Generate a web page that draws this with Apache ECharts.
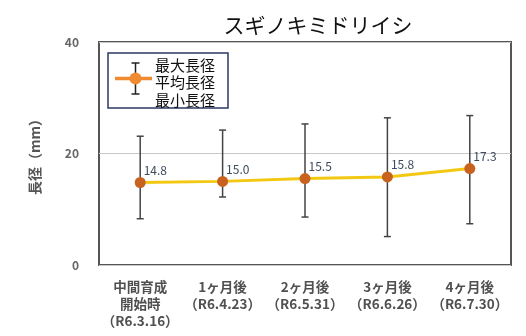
<!DOCTYPE html>
<html><head><meta charset="utf-8">
<script src="https://cdn.jsdelivr.net/npm/echarts@6/dist/echarts.min.js"></script>
<style>html,body{margin:0;padding:0;background:#fff}#c{width:526px;height:336px}</style>
</head><body><div id="c"></div>
<script>
const categories = ['中間育成\n開始時\n（R6.3.16）', '1ヶ月後\n（R6.4.23）', '2ヶ月後\n（R6.5.31）', '3ヶ月後\n（R6.6.26）', '4ヶ月後\n（R6.7.30）'];
const meanValues = [14.8, 15.0, 15.5, 15.8, 17.3];
const maxValues = [23.1, 24.2, 25.3, 26.4, 26.8];
const minValues = [8.3, 12.2, 8.6, 5.1, 7.4];
const yTicks = [0, 20, 40];
const legendLabels = ['最大長径', '平均長径', '最小長径'];

const FONT = '"Noto Sans CJK JP", sans-serif';
const chart = echarts.init(document.getElementById('c'));
const errData = categories.map((c, i) => [i, minValues[i], maxValues[i]]);

chart.setOption({
  animation: false,
  backgroundColor: '#fff',
  title: {
    text: 'スギノキミドリイシ', left: 313, top: 10, textAlign: 'center',
    textStyle: { fontFamily: FONT, fontSize: 21, fontWeight: 'normal', color: '#111' }
  },
  grid: { left: 99, right: 15, top: 42, bottom: 71, show: true, borderColor: '#555', borderWidth: 2, backgroundColor: 'transparent' },
  xAxis: {
    type: 'category', data: categories, boundaryGap: true,
    axisLine: { show: false }, axisTick: { show: false },
    axisLabel: { interval: 0, margin: 13, fontFamily: FONT, fontSize: 13.5, lineHeight: 17, color: '#505050', fontWeight: 'bold' }
  },
  yAxis: {
    type: 'value', min: yTicks[0], max: yTicks[yTicks.length - 1], interval: 20,
    name: '長径（mm）', nameLocation: 'middle', nameRotate: 90, nameGap: 57,
    nameTextStyle: { fontFamily: FONT, fontSize: 14, color: '#555', fontWeight: 'bold' },
    axisLine: { show: false }, axisTick: { show: false },
    axisLabel: { margin: 20, fontFamily: FONT, fontSize: 12, color: '#666', fontWeight: 'bold' },
    splitLine: { lineStyle: { color: '#c8c8c8', width: 1 } }
  },
  series: [
    {
      type: 'custom', data: errData, z: 2,
      renderItem: function (params, api) {
        const x = api.value(0);
        const lo = api.coord([x, api.value(1)]);
        const hi = api.coord([x, api.value(2)]);
        const cw = 3.5;
        const st = { stroke: '#444', lineWidth: 1.5 };
        return {
          type: 'group', children: [
            { type: 'line', shape: { x1: lo[0], y1: lo[1], x2: hi[0], y2: hi[1] }, style: st },
            { type: 'line', shape: { x1: hi[0] - cw, y1: hi[1], x2: hi[0] + cw, y2: hi[1] }, style: st },
            { type: 'line', shape: { x1: lo[0] - cw, y1: lo[1], x2: lo[0] + cw, y2: lo[1] }, style: st }
          ]
        };
      }
    },
    {
      type: 'line', data: meanValues, z: 3,
      lineStyle: { color: '#f2c812', width: 3 },
      symbol: 'circle', symbolSize: 11,
      itemStyle: { color: '#c8621e', borderWidth: 0 },
      label: {
        show: true, position: 'right', distance: 0, offset: [-2, -12],
        formatter: p => p.value.toFixed(1),
        fontFamily: FONT, fontSize: 12, color: '#3c4a5c'
      }
    }
  ],
  graphic: [
    { type: 'rect', shape: { x: 108, y: 53, width: 120, height: 55 }, style: { fill: '#fff', stroke: '#2b3a66', lineWidth: 1.5 }, z: 10 },
    { type: 'line', shape: { x1: 135.5, y1: 63, x2: 135.5, y2: 94 }, style: { stroke: '#222', lineWidth: 1.5 }, z: 11 },
    { type: 'line', shape: { x1: 131.5, y1: 63, x2: 139.5, y2: 63 }, style: { stroke: '#222', lineWidth: 1.5 }, z: 11 },
    { type: 'line', shape: { x1: 131.5, y1: 94, x2: 139.5, y2: 94 }, style: { stroke: '#222', lineWidth: 1.5 }, z: 11 },
    { type: 'line', shape: { x1: 115, y1: 78.5, x2: 152, y2: 78.5 }, style: { stroke: '#f08a30', lineWidth: 3.5 }, z: 12 },
    { type: 'circle', shape: { cx: 135.5, cy: 78.5, r: 6 }, style: { fill: '#f08a30' }, z: 12 },
    { type: 'text', x: 155, y: 65, style: { text: legendLabels[0], font: '15px ' + FONT, fill: '#111', textVerticalAlign: 'middle' }, z: 12 },
    { type: 'text', x: 155, y: 82.5, style: { text: legendLabels[1], font: '15px ' + FONT, fill: '#111', textVerticalAlign: 'middle' }, z: 12 },
    { type: 'text', x: 155, y: 100, style: { text: legendLabels[2], font: '15px ' + FONT, fill: '#111', textVerticalAlign: 'middle' }, z: 12 }
  ]
});
</script></body></html>
